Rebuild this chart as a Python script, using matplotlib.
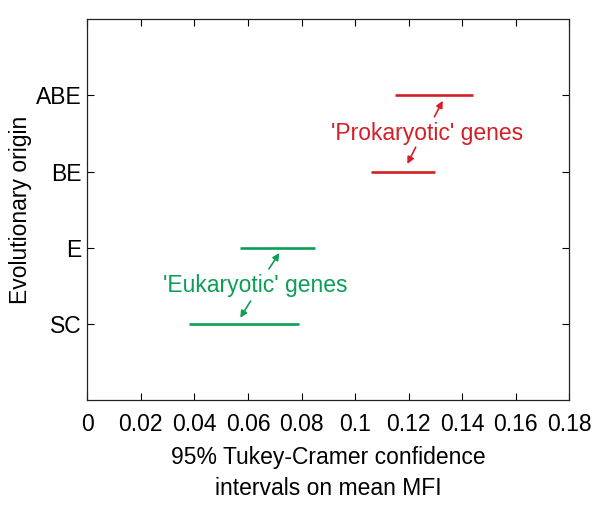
import numpy as np
import matplotlib
matplotlib.use('Agg')
import matplotlib.pyplot as plt

plt.rcParams['font.family'] = ['Liberation Sans', 'DejaVu Sans']

# groups and their 95% confidence intervals on mean MFI
groups = ['SC', 'E', 'BE', 'ABE']
lower = [0.038, 0.057, 0.106, 0.115]
upper = [0.079, 0.085, 0.130, 0.144]
colours = ['#0a9f55', '#0a9f55', '#d51f26', '#d51f26']

red = '#d51f26'
green = '#0a9f55'
fs = 16.5

fig = plt.figure(figsize=(6, 5.16), dpi=100)
ax = fig.add_axes([0.1455, 0.225, 0.8035, 0.7375])

ypos = np.arange(1, len(groups) + 1)
for y, lo, hi, c in zip(ypos, lower, upper, colours):
    ax.plot([lo, hi], [y, y], color=c, lw=1.9, solid_capstyle='butt')

ax.text(0.1267, 3.5, "'Prokaryotic' genes", color=red, fontsize=fs,
        ha='center', va='center')
ax.text(0.0626, 1.5, "'Eukaryotic' genes", color=green, fontsize=fs,
        ha='center', va='center')

# little arrows from the labels to the intervals
arr = [((0.1296, 3.72), (0.1327, 3.93), red),
       ((0.1226, 3.32), (0.1195, 3.10), red),
       ((0.0678, 1.72), (0.0717, 1.93), green),
       ((0.0610, 1.30), (0.0571, 1.08), green)]
for start, end, c in arr:
    ax.annotate('', xy=end, xytext=start,
                arrowprops=dict(arrowstyle='-|>', color=c, lw=1.2,
                                mutation_scale=10, shrinkA=0, shrinkB=0))

ax.set_xlim(0, 0.18)
ax.set_ylim(0, 5)
ax.set_xticks(np.arange(0, 0.181, 0.02))
ax.set_xticklabels(['0', '0.02', '0.04', '0.06', '0.08', '0.1', '0.12',
                    '0.14', '0.16', '0.18'])
ax.set_yticks(ypos)
ax.set_yticklabels(groups)
ax.tick_params(direction='in', length=5, width=0.8, top=True, right=True,
               labelsize=fs)
ax.tick_params(axis='x', pad=9.5)
ax.tick_params(axis='y', pad=4)
for s in ax.spines.values():
    s.set_linewidth(0.9)
    s.set_color('#222222')

ax.set_xlabel('95% Tukey-Cramer confidence\nintervals on mean MFI',
              fontsize=fs, labelpad=7, linespacing=1.45)
ax.set_ylabel('Evolutionary origin', fontsize=fs, labelpad=3)

fig.savefig('out.png', dpi=100)
